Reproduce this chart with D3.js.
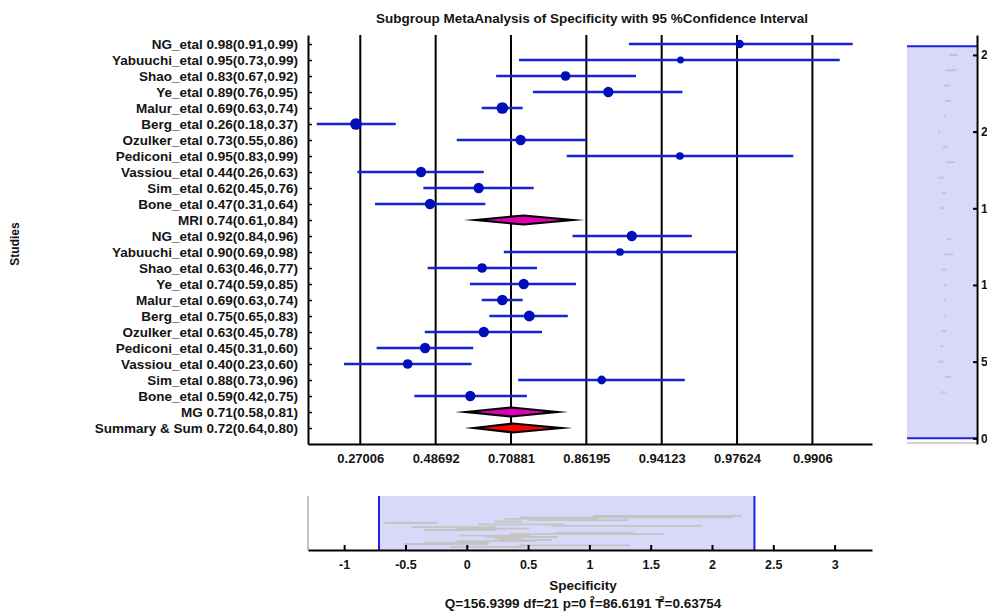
<!DOCTYPE html>
<html><head><meta charset="utf-8">
<script src="https://cdn.jsdelivr.net/npm/d3@7"></script>
<style>
body{margin:0;background:#fff}
svg{display:block}
text{font-family:"Liberation Sans",Arial,Helvetica,sans-serif;font-weight:bold;fill:#141414}
</style>
</head><body>
<svg id="chart" width="987" height="613"></svg>
<script>
// ---------- data ----------
const labels = [
  "NG_etal 0.98(0.91,0.99)","Yabuuchi_etal 0.95(0.73,0.99)","Shao_etal 0.83(0.67,0.92)",
  "Ye_etal 0.89(0.76,0.95)","Malur_etal 0.69(0.63,0.74)","Berg_etal 0.26(0.18,0.37)",
  "Ozulker_etal 0.73(0.55,0.86)","Pediconi_etal 0.95(0.83,0.99)","Vassiou_etal 0.44(0.26,0.63)",
  "Sim_etal 0.62(0.45,0.76)","Bone_etal 0.47(0.31,0.64)","MRI 0.74(0.61,0.84)",
  "NG_etal 0.92(0.84,0.96)","Yabuuchi_etal 0.90(0.69,0.98)","Shao_etal 0.63(0.46,0.77)",
  "Ye_etal 0.74(0.59,0.85)","Malur_etal 0.69(0.63,0.74)","Berg_etal 0.75(0.65,0.83)",
  "Ozulker_etal 0.63(0.45,0.78)","Pediconi_etal 0.45(0.31,0.60)","Vassiou_etal 0.40(0.23,0.60)",
  "Sim_etal 0.88(0.73,0.96)","Bone_etal 0.59(0.42,0.75)","MG 0.71(0.58,0.81)",
  "Summary & Sum 0.72(0.64,0.80)"
];
const est = [0.977,0.953,0.828,0.8915,0.686,0.2596,0.733,0.9526,0.4415,0.619,0.4693,0.74,
             0.9168,0.9048,0.629,0.7405,0.686,0.7537,0.634,0.454,0.401,0.8832,0.594,0.71,0.713];
const lo  = [0.914,0.729,0.669,0.762,0.628,0.1767,0.5526,0.830,0.263,0.4486,0.3078,0.61,
             0.840,0.690,0.462,0.593,0.628,0.650,0.453,0.312,0.2318,0.727,0.421,0.581,0.6052];
const hi  = [0.9943,0.9933,0.9207,0.954,0.738,0.3655,0.8615,0.9881,0.6338,0.7638,0.6384,0.84,
             0.9589,0.9762,0.771,0.8458,0.738,0.832,0.782,0.603,0.598,0.9553,0.748,0.812,0.8197];
// study weight (marker size); null = pooled estimate (diamond)
const weights = [16,11,22,25,32,32,25,14,25,25,25,null,
                 25,14,22,25,27,28,25,25,22,18,25,null,null];
const diamondKind = {11:"subgroup",23:"subgroup",24:"overall"};
const xTickValues = [0.27006,0.48692,0.70881,0.86195,0.94123,0.97624,0.9906];
const miniTicks = [-1,-0.5,0,0.5,1,1.5,2,2.5,3];
const sideTicks = [0,5,10,15,20,25];
const titleText = "Subgroup MetaAnalysis of Specificity with 95 %Confidence Interval";
const xLabelText = "Specificity";
const yLabelText = "Studies";
const statQ = "156.9399", statDf = "21", statP = "0", statI2 = "86.6191", statT2 = "0.63754";

// ---------- setup ----------
const svg = d3.select("#chart");
const logit = p => Math.log(p/(1-p));
const n = labels.length;
const rowVal = i => n - i;

const x = d3.scaleLinear().domain([-1.648, 5.4025]).range([308, 872]);
const y = d3.scaleLinear().domain([0, 25.5625]).range([444, 35]);
const r = d3.scaleSqrt().domain([0, 36]).range([0, 6.2]);

const BLUE_LINE = "#1424d2", BLUE_DOT = "#0010b8";
const LAV = "#d8d8f8", BRUSH = "#1a26d8", GRAY = "#c4c4c4";

// title
svg.append("text").attr("x", 592).attr("y", 23).attr("text-anchor","middle")
  .style("font-size","13.5px").text(titleText);

// grid lines
svg.append("g").selectAll("line").data(xTickValues).join("line")
  .attr("x1", d => x(logit(d))).attr("x2", d => x(logit(d)))
  .attr("y1", 35).attr("y2", 444).attr("stroke","#000").attr("stroke-width",2);

// bottom axis of main plot
const xAxis = d3.axisBottom(x).tickValues(xTickValues.map(logit))
  .tickFormat((d,i) => xTickValues[i]).tickSizeInner(0).tickSizeOuter(0).tickPadding(10);
const gx = svg.append("g").attr("transform","translate(0,444)").call(xAxis);
gx.select(".domain").attr("stroke","#000").attr("stroke-width",2);
gx.selectAll("text").attr("font-family",null).style("font-size","13px");

// left axis with study labels
const yAxis = d3.axisLeft(y).tickValues(d3.range(n).map(rowVal))
  .tickFormat(v => labels[n - v]).tickSizeInner(-4).tickSizeOuter(0).tickPadding(10);
const gy = svg.append("g").attr("transform","translate(308,0)").call(yAxis);
gy.select(".domain").attr("stroke","#000").attr("stroke-width",2);
gy.selectAll(".tick line").attr("stroke","#000").attr("stroke-width",1.5);
gy.selectAll("text").attr("font-family",null).style("font-size","13.5px");

// y label
svg.append("text").attr("transform","translate(19,244) rotate(-90)")
  .attr("text-anchor","middle").style("font-size","12px").text(yLabelText);

// CI lines and markers
const idx = d3.range(n);
const studies = idx.filter(i => weights[i] !== null);
const pooled = idx.filter(i => weights[i] === null);

svg.append("g").selectAll("line").data(studies).join("line")
  .attr("x1", i => x(logit(lo[i]))).attr("x2", i => x(logit(hi[i])))
  .attr("y1", i => y(rowVal(i))).attr("y2", i => y(rowVal(i)))
  .attr("stroke", BLUE_LINE).attr("stroke-width", 2.5);

svg.append("g").selectAll("circle").data(studies).join("circle")
  .attr("cx", i => x(logit(est[i]))).attr("cy", i => y(rowVal(i)))
  .attr("r", i => r(weights[i])).attr("fill", BLUE_DOT);

// diamonds
const hh = 4.5;
svg.append("g").selectAll("path").data(pooled).join("path")
  .attr("d", i => {
    const yy = y(rowVal(i));
    return `M${x(logit(lo[i]))},${yy}L${x(logit(est[i]))},${yy-hh}L${x(logit(hi[i]))},${yy}L${x(logit(est[i]))},${yy+hh}Z`;
  })
  .attr("fill", i => diamondKind[i] === "overall" ? "#ff0000" : "#e000b4")
  .attr("stroke","#000").attr("stroke-width",2.2)
  .attr("stroke-linejoin","miter").attr("stroke-miterlimit",60);

// ---------- right navigator panel ----------
const xr = d3.scaleLinear().domain([-5.3, 5.08]).range([907, 976]);
const yr = d3.scaleLinear().domain([-0.37, 26.3]).range([444, 35]);
const brushY = [0, 25.5625];
svg.append("rect").attr("x", 907).attr("width", 976 - 907)
  .attr("y", yr(brushY[1])).attr("height", yr(brushY[0]) - yr(brushY[1])).attr("fill", LAV);
svg.append("line").attr("x1",907).attr("x2",977).attr("y1",443).attr("y2",443)
  .attr("stroke",GRAY).attr("stroke-width",1.5);
svg.append("g").selectAll("line").data(studies).join("line")
  .attr("x1", i => xr(logit(lo[i])/Math.LN10)).attr("x2", i => xr(logit(hi[i])/Math.LN10))
  .attr("y1", i => yr(rowVal(i))).attr("y2", i => yr(rowVal(i)))
  .attr("stroke", GRAY).attr("stroke-width", 2);
svg.append("g").selectAll("line").data(brushY).join("line")
  .attr("x1",907).attr("x2",977).attr("y1", d => yr(d)).attr("y2", d => yr(d))
  .attr("stroke", BRUSH).attr("stroke-width", 2);
const rAxis = d3.axisRight(yr).tickValues(sideTicks).tickSizeInner(-4).tickSizeOuter(0).tickPadding(4);
const gr = svg.append("g").attr("transform","translate(977,0)").call(rAxis);
gr.select(".domain").attr("stroke","#000").attr("stroke-width",2);
gr.selectAll(".tick line").attr("stroke","#000").attr("stroke-width",2);
gr.selectAll("text").attr("font-family",null).style("font-size","12px");

// ---------- bottom navigator panel ----------
const xb = d3.scaleLinear().domain([-1.295, 3.305]).range([308, 872]);
const yb = d3.scaleLinear().domain([25, 0]).range([516, 551]);
const brushX = x.domain().map(v => v / Math.LN10);
svg.append("rect").attr("x", xb(brushX[0])).attr("width", xb(brushX[1]) - xb(brushX[0]))
  .attr("y", 496).attr("height", 54).attr("fill", LAV);
svg.append("line").attr("x1",308).attr("x2",308).attr("y1",496).attr("y2",550)
  .attr("stroke",GRAY).attr("stroke-width",2);
svg.append("g").selectAll("line").data(studies).join("line")
  .attr("x1", i => xb(logit(lo[i])/Math.LN10)).attr("x2", i => xb(logit(hi[i])/Math.LN10))
  .attr("y1", i => yb(rowVal(i))).attr("y2", i => yb(rowVal(i)))
  .attr("stroke", GRAY).attr("stroke-width", 1.8);
svg.append("g").selectAll("line").data(brushX).join("line")
  .attr("x1", d => xb(d)).attr("x2", d => xb(d)).attr("y1",496).attr("y2",550)
  .attr("stroke", BRUSH).attr("stroke-width", 2);
const bAxis = d3.axisBottom(xb).tickValues(miniTicks).tickFormat(d => String(d))
  .tickSizeInner(-5).tickSizeOuter(0).tickPadding(10);
const gb = svg.append("g").attr("transform","translate(0,550)").call(bAxis);
gb.select(".domain").attr("stroke","#000").attr("stroke-width",2);
gb.selectAll(".tick line").attr("stroke","#000").attr("stroke-width",2);
gb.selectAll("text").attr("font-family",null).style("font-size","12.5px");

// ---------- x label and statistics ----------
svg.append("text").attr("x",583).attr("y",590).attr("text-anchor","middle")
  .style("font-size","13.5px").text(xLabelText);
const st = svg.append("text").attr("x",583).attr("y",608).attr("text-anchor","middle")
  .style("font-size","13.5px");
st.append("tspan").text(`Q=${statQ} df=${statDf} p=${statP} I`);
st.append("tspan").attr("dx",-4).attr("dy",-6).style("font-size","9px").text("2");
st.append("tspan").attr("dy",6).text(`=${statI2} T`);
st.append("tspan").attr("dx",-4).attr("dy",-6).style("font-size","9px").text("2");
st.append("tspan").attr("dy",6).text(`=${statT2}`);
</script>
</body></html>
